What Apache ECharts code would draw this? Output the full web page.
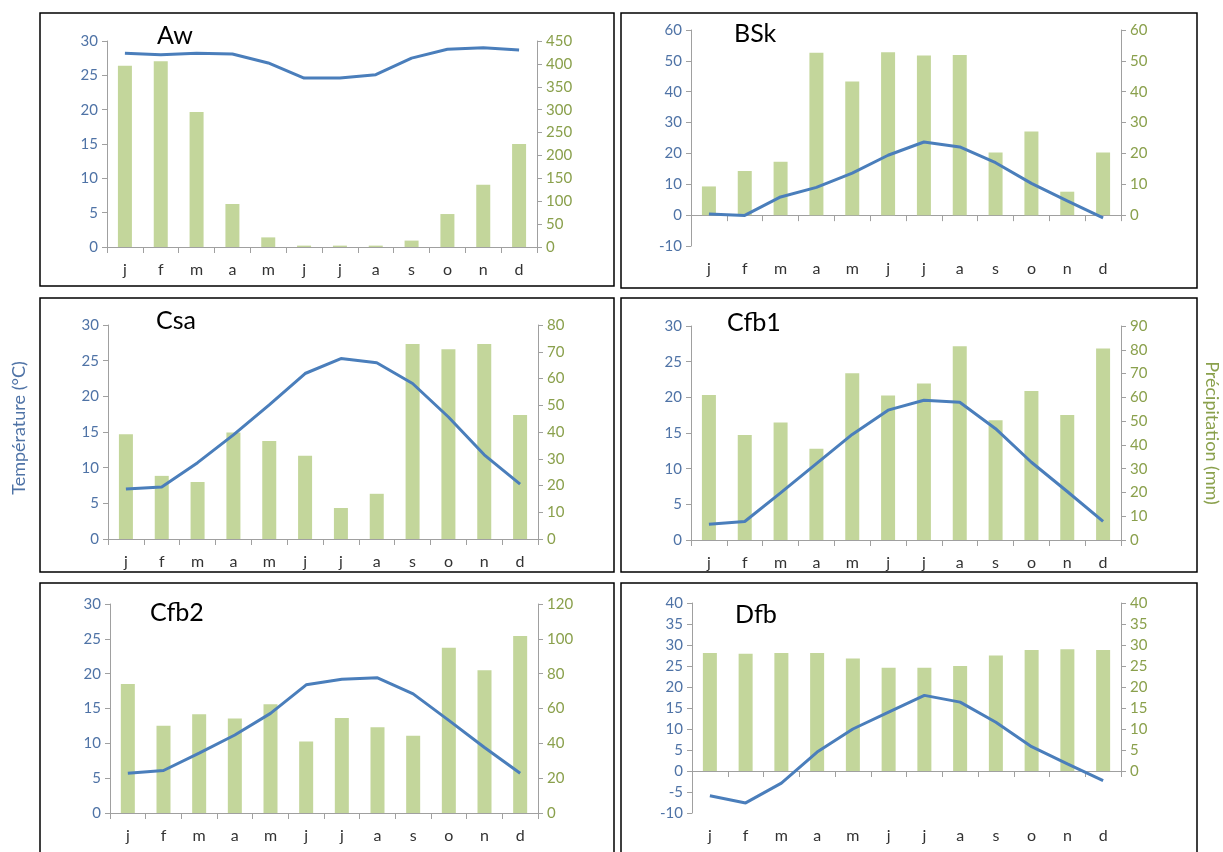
<!DOCTYPE html>
<html>
<head>
<meta charset="utf-8">
<script src="https://cdn.jsdelivr.net/npm/echarts@6/dist/echarts.min.js"></script>
<style>
html,body{margin:0;padding:0;background:#fff;}
#chart{width:1223px;height:852px;}
</style>
</head>
<body>
<div id="chart"></div>
<script>
const months = ['j','f','m','a','m','j','j','a','s','o','n','d'];
const titles = ['Aw','BSk','Csa','Cfb1','Cfb2','Dfb'];

const awTemp   = [28.2,28.0,28.2,28.1,26.8,24.6,24.6,25.1,27.5,28.8,29.0,28.7];
const awPrecip = [396,406,295,94,21,3,3,3,14,72,136,225];
const bskTemp   = [0.4,-0.1,5.9,9.0,13.6,19.4,23.7,22.1,17.0,10.3,4.6,-0.9];
const bskPrecip = [9.3,14.3,17.3,52.6,43.3,52.8,51.7,51.9,20.3,27.1,7.6,20.3];
const csaTemp   = [7.0,7.3,10.7,14.6,18.8,23.2,25.3,24.7,21.8,17.1,11.8,7.7];
const csaPrecip = [39.2,23.6,21.3,39.8,36.6,31.1,11.6,16.9,72.9,70.9,72.9,46.4];
const cfb1Temp   = [2.2,2.6,6.6,10.7,14.8,18.2,19.6,19.3,15.6,10.9,6.8,2.6];
const cfb1Precip = [61.0,44.2,49.4,38.4,70.1,60.8,65.8,81.5,50.4,62.7,52.6,80.5];
const cfb2Temp   = [5.7,6.1,8.6,11.2,14.3,18.4,19.2,19.4,17.1,13.3,9.4,5.7];
const cfb2Precip = [74.1,50.1,56.7,54.2,62.4,41.1,54.5,49.2,44.4,94.9,81.9,101.6];
const dfbTemp   = [-5.9,-7.6,-2.9,4.5,10.0,14.0,18.0,16.4,11.6,5.8,1.7,-2.3];
const dfbPrecip = [28.1,27.9,28.1,28.1,26.8,24.6,24.6,25.0,27.5,28.8,29.0,28.8];

// axis ranges [min, max, interval]
const tempRanges   = [[0,30,5],[-10,60,10],[0,30,5],[0,30,5],[0,30,5],[-10,40,5]];
const precipRanges = [[0,450,50],[0,60,10],[0,80,10],[0,90,10],[0,120,20],[0,40,5]];

const temps = [awTemp,bskTemp,csaTemp,cfb1Temp,cfb2Temp,dfbTemp];
const precs = [awPrecip,bskPrecip,csaPrecip,cfb1Precip,cfb2Precip,dfbPrecip];

// layout
const plotBoxes = [
  {left:107, top:41, width:430, height:206},
  {left:691, top:30, width:430, height:216},
  {left:108, top:325, width:430, height:214},
  {left:691, top:326, width:430, height:214},
  {left:110, top:604, width:428, height:209},
  {left:692, top:603, width:429, height:210}
];
const boxes = [
  [40,13,574,273],[621,13,576,275],
  [40,298,574,274],[621,298,576,274],
  [40,583,574,280],[621,583,576,280]
];
const titlePos = [[152,18],[729,16],[151,303],[722,305],[145,595],[730,597]];

const blue = '#4A7EBB', blueTxt = '#4F73A6', greenTxt = '#8AA04C', barCol = '#C3D69B', axisCol = '#A0A0A0';
const font = 'Lato, "Open Sans", sans-serif';

const grid = [], xAxis = [], yAxis = [], series = [], title = [];
for (let i = 0; i < 6; i++) {
  const g = plotBoxes[i];
  const tr = tempRanges[i], pr = precipRanges[i];
  // temperature grid
  const gi = grid.length;
  grid.push({left:g.left, top:g.top, width:g.width, height:g.height});
  const xLab = xAxis.length;
  xAxis.push({gridIndex:gi, type:'category', data:months, position:'bottom',
    axisLine:{show:false, onZero:false}, axisTick:{show:false},
    axisLabel:{color:'#333', fontSize:16, fontFamily:font, margin:15}});
  xAxis.push({gridIndex:gi, type:'category', data:months, position:'top',
    axisLine:{show:true, onZero:true, lineStyle:{color:axisCol, width:1}},
    axisTick:{show:true, inside:true, length:6, lineStyle:{color:axisCol}},
    axisLabel:{show:false}});
  const yT = yAxis.length;
  yAxis.push({gridIndex:gi, type:'value', position:'left', min:tr[0], max:tr[1], interval:tr[2],
    axisLine:{show:true, lineStyle:{color:axisCol}}, axisTick:{show:true, length:5, lineStyle:{color:axisCol}},
    splitLine:{show:false}, axisLabel:{color:blueTxt, fontSize:15, fontFamily:font, margin:9}});
  // precipitation grid: covers the part of the plot from the top down to temperature zero
  let bi = gi, xBar = xLab;
  if (tr[0] < 0) {
    const zeroFrac = tr[1] / (tr[1] - tr[0]);
    bi = grid.length;
    grid.push({left:g.left, top:g.top, width:g.width, height:g.height * zeroFrac});
    xBar = xAxis.length;
    xAxis.push({gridIndex:bi, type:'category', data:months, show:false});
  }
  const yP = yAxis.length;
  yAxis.push({gridIndex:bi, type:'value', position:'right', min:pr[0], max:pr[1], interval:pr[2],
    axisLine:{show:true, lineStyle:{color:axisCol}}, axisTick:{show:true, length:5, lineStyle:{color:axisCol}},
    splitLine:{show:false}, axisLabel:{color:greenTxt, fontSize:15, fontFamily:font, margin:9}});
  series.push({type:'bar', name:'Précipitation', xAxisIndex:xBar, yAxisIndex:yP, data:precs[i],
    barWidth:14, itemStyle:{color:barCol}, z:2, silent:true});
  series.push({type:'line', name:'Température', xAxisIndex:xLab, yAxisIndex:yT, data:temps[i],
    symbol:'none', lineStyle:{color:blue, width:3}, itemStyle:{color:blue}, z:3, silent:true});
  title.push({text:titles[i], left:titlePos[i][0], top:titlePos[i][1],
    textStyle:{color:'#000', fontSize:25, fontWeight:'normal', fontFamily:font}});
}

const graphic = boxes.map(b => ({type:'rect', shape:{x:b[0], y:b[1], width:b[2], height:b[3]},
  style:{fill:'none', stroke:'#000', lineWidth:1.5}, z:10}));
graphic.push({type:'text', x:19, y:428, rotation:Math.PI/2,
  style:{text:'Température (°C)', fill:blueTxt, fontSize:18, fontFamily:font, textAlign:'center', textVerticalAlign:'middle'}});
graphic.push({type:'text', x:1212, y:433, rotation:-Math.PI/2,
  style:{text:'Précipitation (mm)', fill:greenTxt, fontSize:18, fontFamily:font, textAlign:'center', textVerticalAlign:'middle'}});

const chart = echarts.init(document.getElementById('chart'));
chart.setOption({
  backgroundColor:'#fff',
  animation:false,
  title, grid, xAxis, yAxis, series, graphic
});
</script>
</body>
</html>
